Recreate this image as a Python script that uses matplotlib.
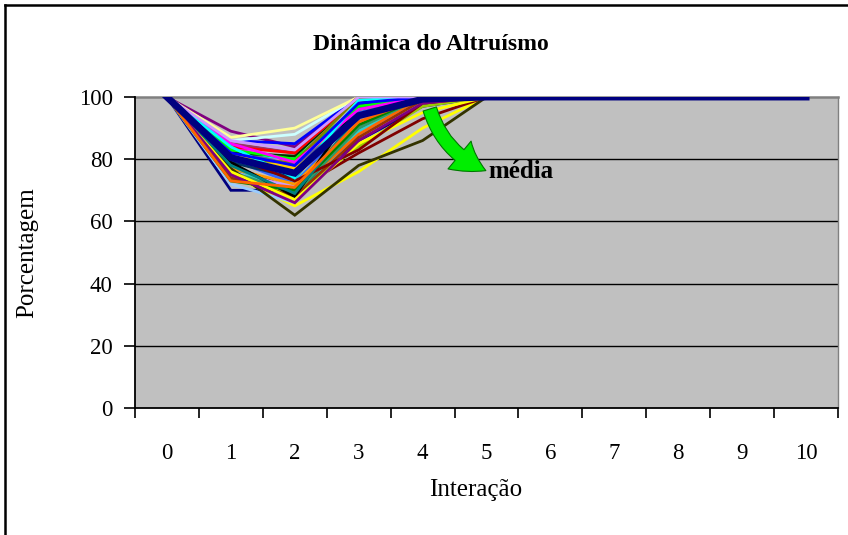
import matplotlib
matplotlib.use("Agg")
import matplotlib.pyplot as plt
from matplotlib.lines import Line2D
import numpy as np

plt.rcParams['font.family'] = ['Liberation Serif', 'DejaVu Serif']

iterations = [0, 1, 2, 3, 4, 5, 6, 7, 8, 9, 10]
x_tick_labels = ["0", "1", "2", "3", "4", "5", "6", "7", "8", "9", "10"]
y_ticks = [0, 20, 40, 60, 80, 100]

series_values = [
    [100, 70, 70, 86, 97, 100, 100, 100, 100, 100, 100],
    [100, 84, 78, 92, 100, 100, 100, 100, 100, 100, 100],
    [100, 75, 65, 76, 90, 100, 100, 100, 100, 100, 100],
    [100, 82, 80, 96, 100, 100, 100, 100, 100, 100, 100],
    [100, 89, 84, 100, 100, 100, 100, 100, 100, 100, 100],
    [100, 78, 70, 82, 93, 100, 100, 100, 100, 100, 100],
    [100, 77, 68, 90, 100, 100, 100, 100, 100, 100, 100],
    [100, 86, 85, 100, 100, 100, 100, 100, 100, 100, 100],
    [100, 80, 73, 97, 100, 100, 100, 100, 100, 100, 100],
    [100, 86, 88, 100, 100, 100, 100, 100, 100, 100, 100],
    [100, 83, 76, 95, 100, 100, 100, 100, 100, 100, 100],
    [100, 87, 90, 100, 100, 100, 100, 100, 100, 100, 100],
    [100, 72, 66, 88, 100, 100, 100, 100, 100, 100, 100],
    [100, 81, 79, 93, 100, 100, 100, 100, 100, 100, 100],
    [100, 76, 71, 91, 99, 100, 100, 100, 100, 100, 100],
    [100, 79, 74, 94, 100, 100, 100, 100, 100, 100, 100],
    [100, 80, 72, 95, 100, 100, 100, 100, 100, 100, 100],
    [100, 78, 67, 89, 100, 100, 100, 100, 100, 100, 100],
    [100, 74, 69, 84, 97, 100, 100, 100, 100, 100, 100],
    [100, 82, 77, 96, 100, 100, 100, 100, 100, 100, 100],
    [100, 77, 72, 92, 100, 100, 100, 100, 100, 100, 100],
    [100, 75, 70, 88, 100, 100, 100, 100, 100, 100, 100],
    [100, 83, 78, 94, 100, 100, 100, 100, 100, 100, 100],
    [100, 81, 75, 93, 100, 100, 100, 100, 100, 100, 100],
    [100, 79, 74, 97, 100, 100, 100, 100, 100, 100, 100],
    [100, 76, 69, 90, 100, 100, 100, 100, 100, 100, 100],
    [100, 82, 81, 100, 100, 100, 100, 100, 100, 100, 100],
    [100, 77, 62, 78, 86, 100, 100, 100, 100, 100, 100],
    [100, 74, 68, 87, 99, 100, 100, 100, 100, 100, 100],
    [100, 85, 82, 100, 100, 100, 100, 100, 100, 100, 100],
    [100, 80, 76, 96, 100, 100, 100, 100, 100, 100, 100],
    [100, 79, 68, 98, 100, 100, 100, 100, 100, 100, 100],
    [100, 84, 82, 100, 100, 100, 100, 100, 100, 100, 100],
    [100, 83, 80, 97, 100, 100, 100, 100, 100, 100, 100],
    [100, 73, 70, 91, 100, 100, 100, 100, 100, 100, 100],
    [100, 80, 79, 100, 100, 100, 100, 100, 100, 100, 100],
    [100, 85, 79, 96, 100, 100, 100, 100, 100, 100, 100],
    [100, 76, 67, 85, 95, 100, 100, 100, 100, 100, 100],
    [100, 81, 73, 83, 98, 100, 100, 100, 100, 100, 100],
    [100, 78, 69, 94, 100, 100, 100, 100, 100, 100, 100],
    [100, 84, 74, 99, 100, 100, 100, 100, 100, 100, 100],
    [100, 75, 66, 86, 98, 100, 100, 100, 100, 100, 100],
    [100, 82, 78, 98, 100, 100, 100, 100, 100, 100, 100],
    [100, 73, 71, 92, 100, 100, 100, 100, 100, 100, 100],
    [100, 86, 83, 100, 100, 100, 100, 100, 100, 100, 100],
]

series_colors = [
    "#000080", "#FF00FF", "#FFFF00", "#00FFFF", "#800080", "#800000", "#008080", "#0000FF",
    "#00CCFF", "#CCFFFF", "#CCFFCC", "#FFFF99", "#99CCFF", "#FF99CC", "#CC99FF", "#FFCC99",
    "#3366FF", "#33CCCC", "#99CC00", "#FFCC00", "#FF9900", "#FF6600", "#666699", "#969696",
    "#003366", "#339966", "#003300", "#333300", "#993300", "#993366", "#333399", "#000000",
    "#FF0000", "#00FF00", "#008000", "#808000", "#FF00FF", "#FFFF00", "#800000", "#008080",
    "#00FFFF", "#800080", "#0000FF", "#FF6600", "#CC99FF",
]

media = [100, 80.5, 75.5, 94, 99.3, 100, 100, 100, 100, 100, 100]

fig = plt.figure(figsize=(8.48, 5.35), dpi=100)
fig.patch.set_facecolor("white")
ax = fig.add_axes([135 / 848, 1 - 408 / 535, (838 - 135) / 848, (408 - 97) / 535])
ax.set_facecolor("#C0C0C0")

for vals, col in zip(series_values, series_colors):
    ax.plot(iterations, vals, color=col, lw=2.0, solid_joinstyle="miter", zorder=3)
ax.plot(iterations, media, color="#000080", lw=5.0, solid_joinstyle="miter", zorder=4)

ax.set_xlim(-0.5, 10.5)
ax.set_ylim(0, 100)

# category axis: tick marks at boundaries, labels centered
ax.set_xticks(np.arange(-0.5, 11, 1.0))
ax.set_xticklabels([])
ax.set_xticks(iterations, minor=True)
ax.set_xticklabels(x_tick_labels, minor=True)
ax.tick_params(axis="x", which="major", direction="out", length=7, width=1.2, color="black")
ax.tick_params(axis="x", which="minor", length=0, pad=25, labelsize=16.5)
ax.set_yticks(y_ticks)
ax.tick_params(axis="y", direction="out", length=8, width=1.2, pad=8, labelsize=16.5)

for v in [20, 40, 60, 80]:
    ax.axhline(v, color="black", lw=1.0, zorder=2)

ax.spines["left"].set_color("black")
ax.spines["left"].set_linewidth(1.3)
ax.spines["bottom"].set_color("black")
ax.spines["bottom"].set_linewidth(1.3)
ax.spines["top"].set_color("#808080")
ax.spines["top"].set_linewidth(1.8)
ax.spines["right"].set_color("#808080")
ax.spines["right"].set_linewidth(1.0)
ax.spines["top"].set_zorder(1)

# arrow and label
ax.annotate("", xy=(5.03, 76.0), xytext=(4.1, 97.0),
            arrowprops=dict(arrowstyle="simple,head_width=1.3,head_length=1.1,tail_width=0.5",
                            connectionstyle="arc3,rad=0.25", mutation_scale=20,
                            facecolor="#00EE00", edgecolor="#007700", lw=0.8),
            zorder=6)
ax.text(5.03, 76.0, "média", fontsize=18, fontweight="bold", ha="left", va="center", zorder=7)

fig.text(0.508, 1 - 45 / 535, "Dinâmica do Altruísmo", fontsize=17, fontweight="bold",
         ha="center", va="center")
fig.text(27 / 848, 1 - 253 / 535, "Porcentagem", fontsize=18, rotation=90,
         ha="center", va="center")
fig.text(476 / 848, 1 - 490 / 535, "Interação", fontsize=18, ha="center", va="center")

# outer chart border (left and top visible)
fig.add_artist(Line2D([5 / 848, 5 / 848], [0, 1 - 5 / 535], color="black", lw=1.8,
                      transform=fig.transFigure))
fig.add_artist(Line2D([5 / 848, 1], [1 - 5 / 535, 1 - 5 / 535], color="black", lw=1.8,
                      transform=fig.transFigure))

fig.savefig("out.png", dpi=100)
